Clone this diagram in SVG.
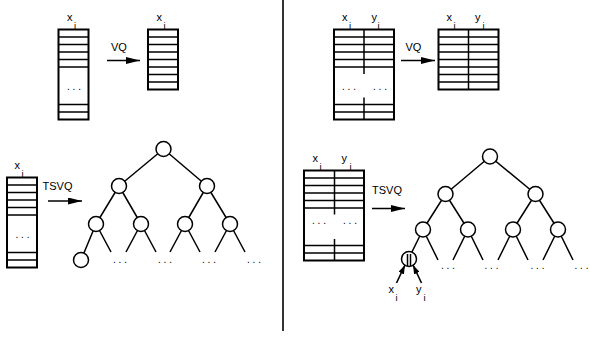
<svg xmlns="http://www.w3.org/2000/svg" width="590" height="337" viewBox="0 0 590 337">
<style>
.t{font-family:"Liberation Sans",Arial,sans-serif;fill:#000}
.lbl{font-size:11px}
.sub{font-size:9.5px}
.dots{font-size:10px;text-anchor:middle}
.box{fill:#fff;stroke:#000;stroke-width:2}
.row{stroke:#000;stroke-width:1.5;fill:none}
.edge{stroke:#000;stroke-width:1.5;fill:none}
.node{fill:#fff;stroke:#000;stroke-width:1.5}
.arr{stroke:#000;stroke-width:1.6;fill:none}
</style>
<defs>
<marker id="ah" viewBox="0 0 14 7" markerUnits="userSpaceOnUse" markerWidth="14" markerHeight="7" refX="14" refY="3.5" orient="auto"><path d="M0,0 L14,3.5 L0,7 z" fill="#000"/></marker>
<marker id="ahs" viewBox="0 0 9 6" markerUnits="userSpaceOnUse" markerWidth="9" markerHeight="6" refX="9" refY="3" orient="auto"><path d="M0,0 L9,3 L0,6 z" fill="#000"/></marker>
</defs>

<line x1="283" y1="0" x2="283" y2="331" stroke="#000" stroke-width="1.6"/>

<!-- top-left: input table -->
<g id="table-lt">
<rect class="box" x="58.5" y="29.5" width="30" height="90"/>
<path class="row" d="M58.5,37H88.5M58.5,44.5H88.5M58.5,52H88.5M58.5,59.5H88.5M58.5,67H88.5M58.5,104.5H88.5M58.5,112H88.5"/>
<text class="t dots" x="74" y="90">. . .</text>
<text class="t lbl" x="67" y="21">x</text><text class="t sub" x="74" y="29">i</text>
</g>
<g id="table-lr">
<rect class="box" x="148" y="29.5" width="30" height="60"/>
<path class="row" d="M148,37H178M148,44.5H178M148,52H178M148,59.5H178M148,67H178M148,74.5H178M148,82H178"/>
<text class="t lbl" x="156.5" y="21">x</text><text class="t sub" x="163.5" y="29">i</text>
</g>
<g id="vq-left">
<text class="t lbl" x="111" y="50.5">VQ</text>
</g>

<!-- top-right -->
<g id="table-rt">
<rect class="box" x="334" y="29.5" width="60" height="90"/>
<path class="row" d="M334,37H394M334,44.5H394M334,52H394M334,59.5H394M334,67H394M334,104.5H394M334,112H394M364,29.5V74M364,97.5V119.5"/>
<text class="t dots" x="349" y="90">. . .</text>
<text class="t dots" x="380" y="90">. . .</text>
<text class="t lbl" x="342" y="21">x</text><text class="t sub" x="349" y="29">i</text>
<text class="t lbl" x="371.5" y="21">y</text><text class="t sub" x="377.5" y="29">i</text>
</g>
<g id="table-rr">
<rect class="box" x="438.5" y="29.5" width="60" height="60"/>
<path class="row" d="M438.5,37H498.5M438.5,44.5H498.5M438.5,52H498.5M438.5,59.5H498.5M438.5,67H498.5M438.5,74.5H498.5M438.5,82H498.5M468.5,29.5V89.5"/>
<text class="t lbl" x="446.5" y="21">x</text><text class="t sub" x="453.5" y="29">i</text>
<text class="t lbl" x="475" y="21">y</text><text class="t sub" x="482.5" y="29">i</text>
</g>
<g id="vq-right">
<text class="t lbl" x="405.5" y="50.5">VQ</text>
</g>

<!-- bottom-left -->
<g id="table-bl">
<rect class="box" x="7" y="177.5" width="30" height="90"/>
<path class="row" d="M7,185H37M7,192.5H37M7,200H37M7,207.5H37M7,215H37M7,252.5H37M7,260H37"/>
<text class="t dots" x="22.5" y="238">. . .</text>
<text class="t lbl" x="14.5" y="169">x</text><text class="t sub" x="21.5" y="177">i</text>
</g>
<g id="tsvq-left">
<text class="t lbl" x="42.5" y="189.5">TSVQ</text>
</g>

<!-- bottom-right -->
<g id="table-rb">
<rect class="box" x="304" y="170.5" width="60" height="90"/>
<path class="row" d="M304,178H364M304,185.5H364M304,193H364M304,200.5H364M304,208H364M304,245.5H364M304,253H364M334.5,170.5V214.5M334.5,239V260.5"/>
<text class="t dots" x="319" y="224">. . .</text>
<text class="t dots" x="350" y="224">. . .</text>
<text class="t lbl" x="312.5" y="162">x</text><text class="t sub" x="319.5" y="170">i</text>
<text class="t lbl" x="341.5" y="162">y</text><text class="t sub" x="349.5" y="170">i</text>
</g>
<g id="tsvq-right">
<text class="t lbl" x="372" y="193.5">TSVQ</text>
</g>

<!-- connectors -->
<g id="connectors">
<line class="arr" x1="107" y1="60.5" x2="140" y2="60.5" marker-end="url(#ah)"/>
<line class="arr" x1="401" y1="60.5" x2="435" y2="60.5" marker-end="url(#ah)"/>
<line class="arr" x1="48" y1="201" x2="82" y2="201" marker-end="url(#ah)"/>
<line class="arr" x1="372" y1="208.5" x2="405" y2="208.5" marker-end="url(#ah)"/>
<path class="edge" d="M163.5,149L119,186M163.5,149L207,186M119,186L96,224M119,186L141,224M207,186L185,224M207,186L230,224M96,224L81,260M96,224L111,252M141,224L126,252M141,224L156,252M185,224L170,252M185,224L200,252M230,224L215,252M230,224L245,252"/>
<path class="edge" d="M490,156.5L445.5,194M490,156.5L535.5,194M445.5,194L423,229.5M445.5,194L468,229.5M535.5,194L513,229.5M535.5,194L558,229.5M423,229.5L408.5,259M423,229.5L438,260M468,229.5L453,260M468,229.5L483,260M513,229.5L498,260M513,229.5L528,260M558,229.5L543,260M558,229.5L573,260"/>
</g>

<g id="lt-root"><circle class="node" cx="163.5" cy="149" r="7.5"/></g>
<g id="lt-n1"><circle class="node" cx="119" cy="186" r="7.5"/></g>
<g id="lt-n2"><circle class="node" cx="207" cy="186" r="7.5"/></g>
<g id="lt-n3"><circle class="node" cx="96" cy="224" r="7.5"/></g>
<g id="lt-n4"><circle class="node" cx="141" cy="224" r="7.5"/></g>
<g id="lt-n5"><circle class="node" cx="185" cy="224" r="7.5"/></g>
<g id="lt-n6"><circle class="node" cx="230" cy="224" r="7.5"/></g>
<g id="lt-leaf"><circle class="node" cx="81" cy="260" r="7.5"/></g>
<g id="lt-dots">
<text class="t dots" x="120" y="263">. . .</text>
<text class="t dots" x="165" y="263">. . .</text>
<text class="t dots" x="209" y="263">. . .</text>
<text class="t dots" x="254" y="263">. . .</text>
</g>

<g id="rt-root"><circle class="node" cx="490" cy="156.5" r="7.5"/></g>
<g id="rt-n1"><circle class="node" cx="445.5" cy="194" r="7.5"/></g>
<g id="rt-n2"><circle class="node" cx="535.5" cy="194" r="7.5"/></g>
<g id="rt-n3"><circle class="node" cx="423" cy="229.5" r="7.5"/></g>
<g id="rt-n4"><circle class="node" cx="468" cy="229.5" r="7.5"/></g>
<g id="rt-n5"><circle class="node" cx="513" cy="229.5" r="7.5"/></g>
<g id="rt-n6"><circle class="node" cx="558" cy="229.5" r="7.5"/></g>
<g id="rt-leaf">
<circle class="node" cx="409" cy="259" r="7.5"/>
<path class="row" d="M407.5,254V266M410.5,254V266"/>
</g>
<g id="rt-dots">
<text class="t dots" x="448" y="269">. . .</text>
<text class="t dots" x="491.5" y="269">. . .</text>
<text class="t dots" x="537.5" y="269">. . .</text>
<text class="t dots" x="581.5" y="269">. . .</text>
</g>
<g id="leaf-arrows">
<line class="arr" x1="396.5" y1="283" x2="405" y2="265" marker-end="url(#ahs)"/>
<line class="arr" x1="421.5" y1="283" x2="413" y2="265" marker-end="url(#ahs)"/>
<text class="t lbl" x="388.5" y="293">x</text><text class="t sub" x="395.5" y="301">i</text>
<text class="t lbl" x="416" y="293">y</text><text class="t sub" x="423.5" y="301">i</text>
</g>
</svg>
